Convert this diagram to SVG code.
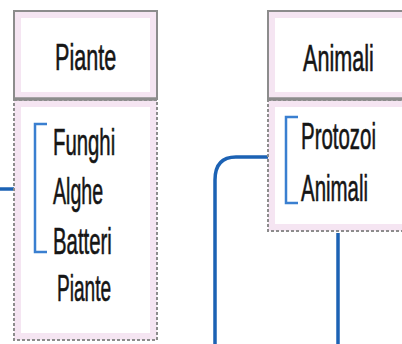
<svg xmlns="http://www.w3.org/2000/svg" width="402" height="344" viewBox="0 0 402 344">
<defs>
<style>
.glow{fill:#fff;stroke:#f5e5f2;stroke-width:7}
.hb{fill:none;stroke:#8c8c8c;stroke-width:2}
.db{fill:none;stroke:#8c8c8c;stroke-width:2;stroke-dasharray:3 2}
.sep{stroke:#8c8c8c;stroke-width:3.5}
.t{font-family:"Liberation Sans",Arial,sans-serif;fill:#151515;stroke:#151515;stroke-width:0.6;font-size:37px}
.br{fill:none;stroke:#3a7fd0;stroke-width:2.5}
.conn{fill:none;stroke:#1c62b4;stroke-width:3.5}
</style>
</defs>
<g id="connectors">
<path class="conn" d="M0 189 H35"/>
<path class="conn" d="M286 157 H236 Q215 157 215 180 V344"/>
<path class="conn" d="M338 233 V344"/>
</g>
<g id="piante">
<rect class="glow" x="17.5" y="14.5" width="136" height="81"/>
<rect class="hb" x="14" y="11" width="143" height="88"/>
<rect class="glow" x="17.5" y="103.5" width="136" height="233"/>
<rect class="db" x="14" y="100" width="143" height="240"/>
<line class="sep" x1="14" y1="99" x2="157" y2="99"/>
<text class="t" transform="translate(55 70) scale(0.584 1)">Piante</text>
<path class="br" d="M47 124 H35 V252 H47"/>
<text class="t" transform="translate(53 155) scale(0.55 1)">Funghi</text>
<text class="t" transform="translate(53 204) scale(0.53 1)">Alghe</text>
<text class="t" transform="translate(53 254) scale(0.55 1)">Batteri</text>
<text class="t" transform="translate(57 301) scale(0.516 1)">Piante</text>
</g>
<g id="animali">
<rect class="glow" x="271.5" y="14.5" width="141" height="81"/>
<rect class="hb" x="268" y="11" width="150" height="88"/>
<rect class="glow" x="271.5" y="103.5" width="141" height="124"/>
<rect class="db" x="268" y="100" width="150" height="131"/>
<line class="sep" x1="268" y1="99" x2="402" y2="99"/>
<text class="t" transform="translate(303 71) scale(0.584 1)">Animali</text>
<path class="br" d="M298 117 H286 V203 H298"/>
<text class="t" transform="translate(301 149) scale(0.553 1)">Protozoi</text>
<text class="t" transform="translate(301 201) scale(0.553 1)">Animali</text>
</g>
</svg>
